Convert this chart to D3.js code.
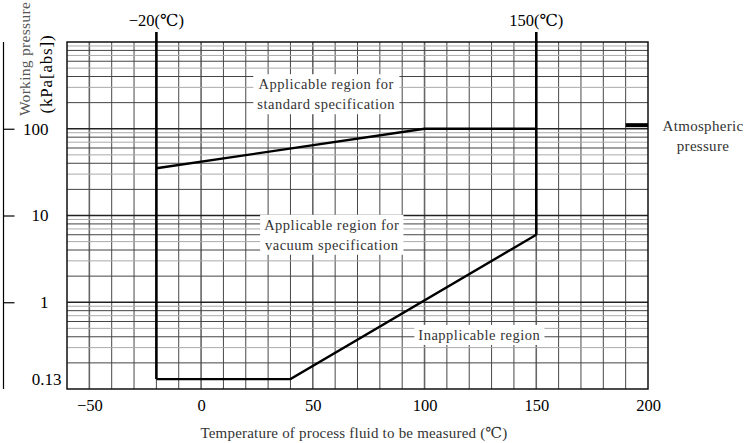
<!DOCTYPE html>
<html>
<head>
<meta charset="utf-8">
<script src="https://cdn.jsdelivr.net/npm/d3@7"></script>
<style>
  body { margin: 0; background: #fff; }
  text { font-family: "Liberation Serif", "DejaVu Serif", serif; }
</style>
</head>
<body>
<div id="chart"></div>
<script>
// temperature ticks (degC) and pressure ticks (kPa abs)
var xTicks = [-50, 0, 50, 100, 150, 200];
var yTicks = [100, 10, 1, 0.13];
var yDecades = [0.1, 1, 10, 100, 1000];
var minorMult = [2, 3, 4, 5, 6, 7, 8, 9];

// limit temperatures of the applicable region
var limitTemps = [-20, 150];
var limitLabels = ["\u221220(\u2103)", "150(\u2103)"];

// boundary of applicable region: [temp, pressure]
var upperBound = [[-20, 35], [100, 100], [150, 100]];
var lowerBound = [[-20, 0.13], [40, 0.13], [150, 6]];

var atmPressure = 110;

var regionLabels = [
  ["Applicable region for", "standard specification"],
  ["Applicable region for", "vacuum specification"],
  ["Inapplicable region"]
];

var W = 744, H = 443;
var x = d3.scaleLinear().domain([-60, 200]).range([67, 648]);
var y = d3.scaleLog().domain([0.1, 1000]).range([389, 42]);

var svg = d3.select("#chart").append("svg")
  .attr("width", W).attr("height", H);

// vertical grid, every 10 degC
var vgrid = d3.range(-50, 200, 10);
svg.selectAll("line.vg")
  .data(vgrid)
  .enter().append("line")
  .attr("x1", function(d) { return x(d); })
  .attr("x2", function(d) { return x(d); })
  .attr("y1", y(1000)).attr("y2", y(0.1))
  .style("stroke", function(d) { return d % 50 == 0 ? "#666" : "#333"; })
  .style("stroke-width", function(d) { return d % 50 == 0 ? 1.6 : 0.9; });

// horizontal minor grid
var minors = [];
for (var i = 0; i < yDecades.length - 1; i++) {
  for (var j = 0; j < minorMult.length; j++) {
    minors.push(yDecades[i] * minorMult[j]);
  }
}
svg.selectAll("line.hg")
  .data(minors)
  .enter().append("line")
  .attr("x1", x(-60)).attr("x2", x(200))
  .attr("y1", function(d) { return y(d); })
  .attr("y2", function(d) { return y(d); })
  .style("stroke", function(d, i) { return (i % 2 == 0) ? "#444" : "#aaa"; })
  .style("stroke-width", 1);

// decade lines
svg.selectAll("line.dg")
  .data([1, 10, 100])
  .enter().append("line")
  .attr("x1", x(-60)).attr("x2", x(200))
  .attr("y1", function(d) { return y(d); })
  .attr("y2", function(d) { return y(d); })
  .style("stroke", "#222")
  .style("stroke-width", 1.4);

// frame
svg.append("rect")
  .attr("x", x(-60)).attr("y", y(1000))
  .attr("width", x(200) - x(-60)).attr("height", y(0.1) - y(1000))
  .style("fill", "none").style("stroke", "#111").style("stroke-width", 1.5);

// region labels with white boxes
var labelPos = [[56, 250], [58.5, 6], [124.5, 0.42]];
regionLabels.forEach(function(lines, k) {
  var g = svg.append("g");
  var bg = g.append("rect").style("fill", "#fff");
  var t = g.append("text")
    .attr("text-anchor", "middle")
    .style("font-size", "14.5px")
    .style("letter-spacing", "0.5px")
    .style("fill", "#333");
  var cy = y(labelPos[k][1]) - (lines.length - 1) * 10;
  lines.forEach(function(s, n) {
    t.append("tspan")
      .attr("x", x(labelPos[k][0]))
      .attr("y", cy + n * 20 + 5)
      .text(s);
  });
  var bb = t.node().getBBox();
  bg.attr("x", bb.x - 4).attr("y", bb.y - 2)
    .attr("width", bb.width + 8).attr("height", bb.height + 4);
});

// boundary lines
var line = d3.line()
  .x(function(d) { return x(d[0]); })
  .y(function(d) { return y(d[1]); });

svg.append("path").attr("d", line(upperBound))
  .style("fill", "none").style("stroke", "#000").style("stroke-width", 2.4);
svg.append("path").attr("d", line(lowerBound))
  .style("fill", "none").style("stroke", "#000").style("stroke-width", 2.4);

// limit temperature lines
var limitBottom = [0.13, 6];
svg.selectAll("line.lim")
  .data(limitTemps)
  .enter().append("line")
  .attr("x1", function(d) { return x(d); })
  .attr("x2", function(d) { return x(d); })
  .attr("y1", 32)
  .attr("y2", function(d, i) { return y(limitBottom[i]); })
  .style("stroke", "#000").style("stroke-width", 2.6);

svg.selectAll("text.lim")
  .data(limitTemps)
  .enter().append("text")
  .attr("x", function(d) { return x(d); })
  .attr("y", 26)
  .attr("text-anchor", "middle")
  .style("font-size", "16.5px")
  .text(function(d, i) { return limitLabels[i]; });

// atmospheric pressure marker
svg.append("line")
  .attr("x1", x(190)).attr("x2", x(200))
  .attr("y1", y(atmPressure)).attr("y2", y(atmPressure))
  .style("stroke", "#000").style("stroke-width", 4);
var atm = svg.append("text")
  .attr("text-anchor", "middle")
  .style("font-size", "15px")
  .style("letter-spacing", "0.3px")
  .style("fill", "#333");
atm.append("tspan").attr("x", 703).attr("y", 131).text("Atmospheric");
atm.append("tspan").attr("x", 703).attr("y", 151).text("pressure");

// x axis
var xAxis = d3.axisBottom(x).tickValues(xTicks).tickSize(0).tickPadding(10)
  .tickFormat(function(d) { return d < 0 ? "\u2212" + Math.abs(d) : d; });
var gx = svg.append("g").attr("transform", "translate(0," + y(0.1) + ")").call(xAxis);
gx.select(".domain").remove();
gx.selectAll("text").style("font-size", "16.5px").style("fill", "#000")
  .attr("font-family", null);

svg.append("text")
  .attr("x", 354).attr("y", 438)
  .attr("text-anchor", "middle")
  .style("font-size", "15px")
  .style("letter-spacing", "0.2px")
  .style("fill", "#333")
  .text("Temperature of process fluid to be measured (\u2103)");

// separate y axis on far left
var yAxis = d3.axisLeft(y).tickValues(yTicks).tickSize(-11).tickPadding(0)
  .tickFormat(function(d) { return d; });
var gy = svg.append("g").attr("transform", "translate(3.5,0)").call(yAxis);
gy.select(".domain").remove();
gy.append("line")
  .attr("x1", 0).attr("x2", 0)
  .attr("y1", y(1000)).attr("y2", y(0.1))
  .style("stroke", "#000").style("stroke-width", 1.2);
gy.selectAll(".tick line").style("stroke", "#000").style("stroke-width", 1.2)
  .attr("x2", function(d) { return d == 0.13 ? 0 : 11; });
gy.selectAll(".tick text")
  .attr("x", 58).attr("text-anchor", "end")
  .style("font-size", "17px").style("fill", "#000")
  .attr("font-family", null)
  .attr("dx", function(d) { return d == 0.13 ? 0 : -13; });

// y title
svg.append("text")
  .attr("transform", "translate(30,59) rotate(-90)")
  .attr("text-anchor", "middle")
  .style("font-size", "15.5px")
  .style("letter-spacing", "0.3px")
  .style("fill", "#555")
  .text("Working pressure");
svg.append("text")
  .attr("transform", "translate(52,74) rotate(-90)")
  .attr("text-anchor", "middle")
  .style("font-size", "17px")
  .style("letter-spacing", "0.8px")
  .style("fill", "#000")
  .text("(kPa[abs])");
</script>
</body>
</html>
